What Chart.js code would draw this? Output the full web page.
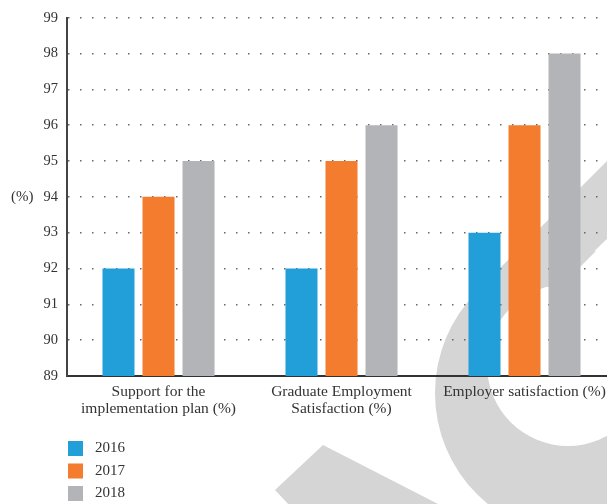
<!DOCTYPE html>
<html>
<head>
<meta charset="utf-8">
<script src="https://cdn.jsdelivr.net/npm/chart.js@4.4.0/dist/chart.umd.min.js"></script>
<style>
  html, body { margin: 0; padding: 0; background: #fff; overflow: hidden; }
</style>
</head>
<body>
<canvas id="myChart" width="616" height="504"></canvas>
<script>
const categories = [
  ["Support for the", "implementation plan (%)"],
  ["Graduate Employment", "Satisfaction (%)"],
  "Employer satisfaction (%)",
];
const years = ["2016", "2017", "2018"];
const values2016 = [92, 92, 93];
const values2017 = [94, 95, 96];
const values2018 = [95, 96, 98];
const yMin = 89;
const yMax = 99;
const unitLabel = "(%)";

const barColors = ["#229fd9", "#f47c2e", "#b3b4b8"];
const textColor = "#333";
const fontFamily = "'Liberation Serif', 'DejaVu Serif', serif";

// light grey logo shapes sitting behind the plot
const backdrop = {
  id: "backdrop",
  beforeDraw(chart) {
    const ctx = chart.ctx;
    ctx.save();
    ctx.fillStyle = "#d5d5d5";

    // ring, opened on its upper right side
    ctx.save();
    ctx.beginPath();
    ctx.rect(0, 0, 1000, 1000);
    ctx.moveTo(525, 322);
    ctx.lineTo(925, -78);
    ctx.lineTo(925, 722);
    ctx.closePath();
    ctx.clip("evenodd");
    ctx.beginPath();
    ctx.arc(578, 393, 143, 0, Math.PI * 2);
    ctx.arc(568, 365, 81, 0, Math.PI * 2);
    ctx.fill("evenodd");
    ctx.restore();

    // diagonal stroke leaving the ring
    ctx.beginPath();
    ctx.moveTo(477, 291);
    ctx.lineTo(660, 108);
    ctx.lineTo(660, 188);
    ctx.lineTo(558, 286);
    ctx.closePath();
    ctx.fill();

    ctx.beginPath();
    ctx.moveTo(275, 490);
    ctx.lineTo(323, 445);
    ctx.lineTo(442, 506);
    ctx.lineTo(290, 506);
    ctx.closePath();
    ctx.fill();
    ctx.restore();
  },
};

// "(%)" beside the y axis and the stacked legend under the chart
const extras = {
  id: "extras",
  afterDraw(chart) {
    const ctx = chart.ctx;
    const area = chart.chartArea;
    ctx.save();
    ctx.font = "15px " + fontFamily;
    ctx.fillStyle = textColor;
    ctx.textBaseline = "middle";
    ctx.textAlign = "left";
    ctx.fillText(unitLabel, 11, (area.top + area.bottom) / 2);

    chart.data.datasets.forEach((ds, i) => {
      const y = area.bottom + 65 + i * 22.5;
      ctx.fillStyle = ds.backgroundColor;
      ctx.fillRect(area.left + 1, y, 15, 15);
      ctx.fillStyle = textColor;
      ctx.fillText(ds.label, area.left + 28, y + 7.5);
    });
    ctx.restore();
  },
};

const ctx = document.getElementById("myChart").getContext("2d");
new Chart(ctx, {
  type: "bar",
  data: {
    labels: categories,
    datasets: [
      { label: years[0], data: values2016, backgroundColor: barColors[0] },
      { label: years[1], data: values2017, backgroundColor: barColors[1] },
      { label: years[2], data: values2018, backgroundColor: barColors[2] },
    ],
  },
  options: {
    responsive: false,
    animation: false,
    devicePixelRatio: 1,
    categoryPercentage: 0.656,
    barPercentage: 0.8,
    layout: { padding: { top: 12, left: 0, right: 0, bottom: 78 } },
    plugins: {
      legend: { display: false },
      tooltip: { enabled: false },
    },
    scales: {
      x: {
        grid: { display: false, drawTicks: false },
        border: { display: true, color: "#333", width: 2 },
        ticks: {
          color: textColor,
          padding: 7,
          maxRotation: 0,
          font: { family: fontFamily, size: 15.5, lineHeight: 1.1 },
        },
        afterFit(scale) {
          scale.height = 50;
        },
      },
      y: {
        min: yMin,
        max: yMax,
        grid: { color: "#666", lineWidth: 1.5, drawTicks: false },
        border: { display: true, color: "#444", width: 2, dash: [1.5, 10.5] },
        ticks: {
          stepSize: 1,
          color: textColor,
          padding: 9,
          font: { family: fontFamily, size: 14.5 },
        },
        afterFit(scale) {
          scale.width = 67;
        },
      },
    },
  },
  plugins: [backdrop, extras],
});
</script>
</body>
</html>
